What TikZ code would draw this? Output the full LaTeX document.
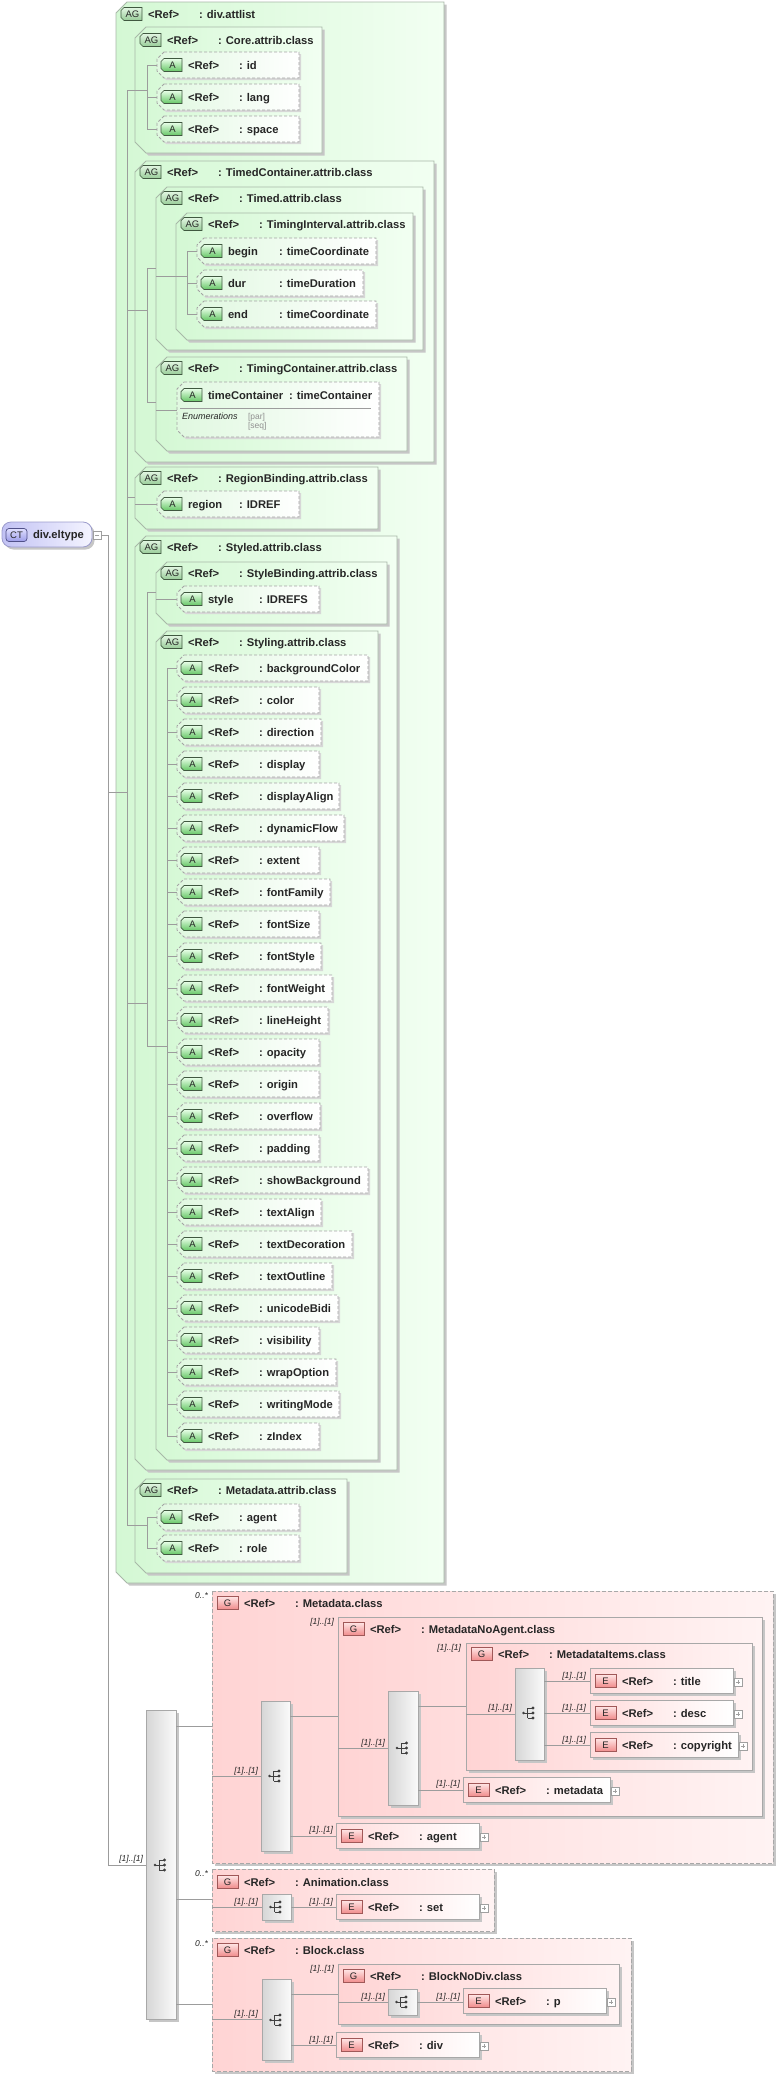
\documentclass[tikz,border=0pt]{standalone}
\usepackage{fontspec}
\setmainfont{Liberation Sans}
\usetikzlibrary{calc}
\definecolor{lineC}{HTML}{9C9C9C}
\definecolor{shdC}{HTML}{C6C6C6}
\definecolor{txtC}{HTML}{262626}
\definecolor{agL}{HTML}{D4F8D4}
\definecolor{agR}{HTML}{F2FFF2}
\definecolor{agB}{HTML}{A8B8A8}
\definecolor{aL}{HTML}{E0F8E0}
\definecolor{dashC}{HTML}{A4A4A4}
\definecolor{agbT}{HTML}{E2F6E2}
\definecolor{agbBt}{HTML}{98CC98}
\definecolor{abT}{HTML}{E8FFE8}
\definecolor{abBt}{HTML}{66C666}
\definecolor{bdG}{HTML}{405840}
\definecolor{rbT}{HTML}{FFE4E4}
\definecolor{rbBt}{HTML}{F08A8A}
\definecolor{bdR}{HTML}{A05858}
\definecolor{gL}{HTML}{FFD4D4}
\definecolor{gR}{HTML}{FFF3F3}
\definecolor{eL}{HTML}{FFDCDC}
\definecolor{boxB}{HTML}{A8A8A8}
\definecolor{sqL}{HTML}{D6D6D6}
\definecolor{sqR}{HTML}{FAFAFA}
\definecolor{iconC}{HTML}{404040}
\definecolor{plusC}{HTML}{A0A0A0}
\definecolor{ctL}{HTML}{C2C2F4}
\definecolor{ctR}{HTML}{F4F4FF}
\definecolor{ctB}{HTML}{9C9CCC}
\definecolor{ctbT}{HTML}{E0E0FF}
\definecolor{ctbBt}{HTML}{9C9CE8}
\definecolor{ctbB}{HTML}{505088}
\definecolor{enumC}{HTML}{909090}
\newcounter{nid}
\tikzset{
  conn/.style={draw=lineC, line width=0.8pt},
  tt/.style={anchor=base west, inner sep=0pt, outer sep=0pt, text=txtC, font=\fontsize{11.2}{13}\selectfont\bfseries},
  badgetxt/.style={anchor=base, inner sep=0pt, outer sep=0pt, text=txtC, font=\fontsize{9.5}{11}\selectfont},
  card/.style={anchor=base east, inner sep=0pt, outer sep=0pt, text=txtC, font=\fontsize{8.5}{10}\selectfont\itshape},
  enumt/.style={anchor=base west, inner sep=0pt, outer sep=0pt, text=txtC, font=\fontsize{9}{10}\selectfont\itshape},
  enumv/.style={anchor=base west, inner sep=0pt, outer sep=0pt, text=enumC, font=\fontsize{8.5}{10}\selectfont},
}
\newcommand\Txt[4]{\stepcounter{nid}\node[#1] (t\thenid) at ({#2},{#3}) {#4};}
\newcommand\HL[3]{\stepcounter{nid}\coordinate (p\thenid a) at ({#1},{#3});\coordinate (p\thenid b) at ({#2},{#3});\draw[conn] (p\thenid a) -- (p\thenid b);}
\newcommand\VL[3]{\stepcounter{nid}\coordinate (p\thenid a) at ({#1},{#2});\coordinate (p\thenid b) at ({#1},{#3});\draw[conn] (p\thenid a) -- (p\thenid b);}
\newcommand\Card[3]{\Txt{card}{#1}{#2+3}{#3}}
% tag badge (AG / A)
\newcommand\TagBadge[5]{% x cy text topcolor bottomcolor
  \path[draw=bdG, line width=0.7pt, top color=#4, bottom color=#5] ({#1+3},{#2-6.5}) -- ({#1+21},{#2-6.5}) -- ({#1+21},{#2+6.5}) -- ({#1+3},{#2+6.5}) -- ({#1},{#2+3.5}) -- ({#1},{#2-3.5}) -- cycle;
  \Txt{badgetxt}{#1+11.5}{#2+3.6}{#3}}
\newcommand\RBadge[3]{% x cy text
  \path[draw=bdR, line width=0.7pt, top color=rbT, bottom color=rbBt] ({#1},{#2-6.5}) rectangle ({#1+21},{#2+6.5});
  \Txt{badgetxt}{#1+10.5}{#2+3.6}{#3}}
\newcommand\AGbox[6]{% L T R B cy title
  \fill[shdC, xshift=2.5pt, yshift=-2.5pt] ({#1+11},{#2}) -- ({#3},{#2}) -- ({#3},{#4}) -- ({#1+11},{#4}) -- ({#1},{#4-11}) -- ({#1},{#2+11}) -- cycle;
  \path[draw=agB, line width=0.8pt, left color=agL, right color=agR] ({#1+11},{#2}) -- ({#3},{#2}) -- ({#3},{#4}) -- ({#1+11},{#4}) -- ({#1},{#4-11}) -- ({#1},{#2+11}) -- cycle;
  \TagBadge{#1+5}{#5}{AG}{agbT}{agbBt}
  \Txt{tt}{#1+32}{#5+4}{<Ref>}
  \Txt{tt}{#1+83}{#5+4}{: #6}}
\newcommand\Aitem[5]{% badgeX r R name type
  \fill[shdC!70, xshift=2pt, yshift=-2pt] ({#1+3},{#2-13}) -- ({#3},{#2-13}) -- ({#3},{#2+13}) -- ({#1+3},{#2+13}) -- ({#1-4},{#2+6}) -- ({#1-4},{#2-6}) -- cycle;
  \path[draw=dashC, line width=0.8pt, dash pattern=on 3pt off 2pt, left color=aL, right color=white] ({#1+3},{#2-13}) -- ({#3},{#2-13}) -- ({#3},{#2+13}) -- ({#1+3},{#2+13}) -- ({#1-4},{#2+6}) -- ({#1-4},{#2-6}) -- cycle;
  \TagBadge{#1}{#2}{A}{abT}{abBt}
  \Txt{tt}{#1+27}{#2+4}{#4}
  \Txt{tt}{#1+78}{#2+4}{: #5}}
\newcommand\Gbox[7]{% L T R B cy title dashopt
  \fill[shdC, xshift=2.5pt, yshift=-2.5pt] ({#1},{#2}) rectangle ({#3},{#4});
  \path[draw=boxB, line width=0.8pt, #7, left color=gL, right color=gR] ({#1},{#2}) rectangle ({#3},{#4});
  \RBadge{#1+5}{#5}{G}
  \Txt{tt}{#1+32}{#5+4}{<Ref>}
  \Txt{tt}{#1+83}{#5+4}{: #6}}
\newcommand\Plus[2]{%
  \path[draw=plusC, fill=white, line width=0.6pt] ({#1},{#2-4}) rectangle ({#1+8},{#2+4});
  \draw[plusC, line width=0.6pt] ({#1+2},{#2}) -- ({#1+6},{#2}) ({#1+4},{#2-2}) -- ({#1+4},{#2+2});}
\newcommand\Ebox[4]{% L r R type
  \fill[shdC, xshift=2.5pt, yshift=-2.5pt] ({#1},{#2-12.5}) rectangle ({#3},{#2+12.5});
  \path[draw=boxB, line width=0.8pt, left color=eL, right color=white] ({#1},{#2-12.5}) rectangle ({#3},{#2+12.5});
  \RBadge{#1+5}{#2}{E}
  \Txt{tt}{#1+32}{#2+4}{<Ref>}
  \Txt{tt}{#1+83}{#2+4}{: #4}
  \Plus{#3+1}{#2+1}}
\newcommand\SeqIcon[2]{%
  \draw[iconC, line width=0.7pt] ({#1-6},{#2}) -- ({#1-2},{#2}) ({#1-2},{#2-5}) -- ({#1-2},{#2+5}) ({#1-2},{#2-5}) -- ({#1+3},{#2-5}) ({#1-2},{#2}) -- ({#1+3},{#2}) ({#1-2},{#2+5}) -- ({#1+3},{#2+5});
  \fill[iconC] ({#1-6},{#2}) circle (1.4pt) ({#1+3.5},{#2-5}) circle (1.6pt) ({#1+3.5},{#2}) circle (1.6pt) ({#1+3.5},{#2+5}) circle (1.6pt);}
\newcommand\Seq[5]{% L T R B iconY
  \fill[shdC, xshift=2.5pt, yshift=-2.5pt] ({#1},{#2}) rectangle ({#3},{#4});
  \path[draw=boxB, line width=0.8pt, left color=sqL, right color=sqR] ({#1},{#2}) rectangle ({#3},{#4});
  \SeqIcon{(#1+#3)/2}{#5}}
\begin{document}
\begin{tikzpicture}[x=1pt, y=-1pt]
\useasboundingbox[fill=white] (0,0) rectangle (780,2077);
% ---------- complex type ----------
\fill[shdC, xshift=2.5pt, yshift=-2.5pt, rounded corners=9pt] (2,522) rectangle (92,547);
\path[draw=ctB, line width=0.8pt, rounded corners=9pt, left color=ctL, right color=ctR] (2,522) rectangle (92,547);
\path[draw=ctbB, line width=0.7pt, rounded corners=3pt, top color=ctbT, bottom color=ctbBt] (6,528.5) rectangle (27,541.5);
\Txt{badgetxt}{16.5}{538.6}{CT}
\Txt{tt}{33}{538}{div.eltype}
\path[draw=plusC, fill=white, line width=0.6pt] (93,531) rectangle (101,539);
\stepcounter{nid}\coordinate (m1) at (95,535); \coordinate (m2) at (99,535);
\draw[plusC, line width=0.6pt] (m1) -- (m2);
% ---------- attribute groups ----------
\AGbox{116}{2}{444}{1583}{14}{div.attlist}
\AGbox{135}{27}{322}{153}{40}{Core.attrib.class}
\Aitem{161}{65}{299}{<Ref>}{id}
\Aitem{161}{97}{299}{<Ref>}{lang}
\Aitem{161}{129}{299}{<Ref>}{space}
\AGbox{135}{161}{434}{462}{172}{TimedContainer.attrib.class}
\AGbox{156}{187}{423}{350}{198}{Timed.attrib.class}
\AGbox{176}{213}{413}{340}{224}{TimingInterval.attrib.class}
\Aitem{201}{251}{376}{begin}{timeCoordinate}
\Aitem{201}{283}{363}{dur}{timeDuration}
\Aitem{201}{314}{376}{end}{timeCoordinate}
\AGbox{156}{357}{407}{451}{368}{TimingContainer.attrib.class}
% timeContainer attribute with enumerations
\fill[shdC!70, xshift=2pt, yshift=-2pt] (184,382) -- (379,382) -- (379,437) -- (184,437) -- (177,430) -- (177,389) -- cycle;
\path[draw=dashC, line width=0.8pt, dash pattern=on 3pt off 2pt, left color=aL, right color=white] (184,382) -- (379,382) -- (379,437) -- (184,437) -- (177,430) -- (177,389) -- cycle;
\TagBadge{181}{395}{A}{abT}{abBt}
\Txt{tt}{208}{399}{timeContainer}
\Txt{tt}{289}{399}{: timeContainer}
\stepcounter{nid}\coordinate (s1) at (180,408); \coordinate (s2) at (371,408);
\draw[lineC, line width=0.8pt] (s1) -- (s2);
\Txt{enumt}{182}{419.5}{Enumerations}
\Txt{enumv}{248}{419}{[par]}
\Txt{enumv}{248}{428.5}{[seq]}
\AGbox{135}{467}{378}{529}{478}{RegionBinding.attrib.class}
\Aitem{161}{504}{299}{region}{IDREF}
\AGbox{135}{536}{397}{1470}{547}{Styled.attrib.class}
\AGbox{156}{562}{387}{624}{573}{StyleBinding.attrib.class}
\Aitem{181}{599}{319}{style}{IDREFS}
\AGbox{156}{631}{378}{1460}{642}{Styling.attrib.class}
\foreach \nm/\rr [count=\k from 0] in {backgroundColor/368, color/319, direction/321, display/319, displayAlign/339, dynamicFlow/344, extent/319, fontFamily/330, fontSize/319, fontStyle/321, fontWeight/332, lineHeight/328, opacity/319, origin/319, overflow/320, padding/319, showBackground/368, textAlign/321, textDecoration/352, textOutline/332, unicodeBidi/338, visibility/319, wrapOption/336, writingMode/339, zIndex/319}{
  \pgfmathsetmacro\ry{668+32*\k}
  \Aitem{181}{\ry}{\rr}{<Ref>}{\nm}
  \HL{167}{177}{\ry}
}
\AGbox{135}{1479}{347}{1573}{1490}{Metadata.attrib.class}
\Aitem{161}{1517}{299}{<Ref>}{agent}
\Aitem{161}{1548}{299}{<Ref>}{role}
% ---------- content model ----------
\Seq{146}{1710}{176}{2019}{1865}
\Gbox{212}{1591}{773}{1863}{1603}{Metadata.class}{dash pattern=on 4pt off 2pt}
\Seq{261}{1701}{290}{1851}{1776}
\Gbox{338}{1617}{762}{1816}{1629}{MetadataNoAgent.class}{solid}
\Seq{388}{1691}{418}{1805}{1748}
\Gbox{466}{1643}{752}{1770}{1654}{MetadataItems.class}{solid}
\Seq{515}{1668}{544}{1760}{1713}
\Ebox{590}{1681}{733}{title}
\Ebox{590}{1713}{733}{desc}
\Ebox{590}{1745}{738}{copyright}
\Ebox{463}{1790}{610}{metadata}
\Ebox{336}{1836}{479}{agent}
\Gbox{212}{1869}{494}{1931}{1882}{Animation.class}{dash pattern=on 4pt off 2pt}
\Seq{262}{1894}{291}{1920}{1907}
\Ebox{336}{1907}{479}{set}
\Gbox{212}{1938}{631}{2071}{1950}{Block.class}{dash pattern=on 4pt off 2pt}
\Seq{262}{1979}{291}{2060}{2020}
\Gbox{338}{1964}{619}{2024}{1976}{BlockNoDiv.class}{solid}
\Seq{388}{1989}{417}{2015}{2002}
\Ebox{463}{2001}{606}{p}
\Ebox{336}{2045}{479}{div}
% ---------- connectors ----------
\HL{101}{108}{535}
\VL{108}{535}{1865}
\HL{108}{127}{792}
\HL{108}{146}{1865}
\VL{127}{90}{1525}
\HL{127}{147}{90}
\HL{127}{147}{310}
\HL{127}{135}{497}
\HL{135}{157}{504}
\HL{127}{147}{1003}
\HL{127}{147}{1525}
\VL{147}{65}{129}
\HL{147}{157}{65}
\HL{147}{157}{97}
\HL{147}{157}{129}
\VL{147}{268}{402}
\HL{147}{156}{268}
\HL{156}{187}{276}
\HL{147}{156}{402}
\HL{156}{177}{410}
\VL{187}{251}{314}
\HL{187}{197}{251}
\HL{187}{197}{283}
\HL{187}{197}{314}
\VL{147}{592}{1046}
\HL{147}{156}{592}
\HL{156}{177}{599}
\HL{147}{167}{1046}
\VL{167}{668}{1436}
\VL{147}{1517}{1548}
\HL{147}{157}{1517}
\HL{147}{157}{1548}
\HL{176}{212}{1726}
\HL{176}{212}{1899}
\HL{176}{212}{2004}
\HL{212}{261}{1776}
\HL{290}{338}{1716}
\HL{290}{336}{1836}
\HL{338}{388}{1748}
\HL{418}{466}{1706}
\HL{418}{463}{1790}
\HL{466}{515}{1714}
\HL{544}{590}{1681}
\HL{544}{590}{1713}
\HL{544}{590}{1745}
\HL{212}{262}{1907}
\HL{291}{336}{1907}
\HL{212}{262}{2019}
\HL{291}{338}{1994}
\HL{291}{336}{2045}
\HL{338}{388}{2002}
\HL{417}{463}{2002}
% ---------- cardinalities ----------
\Card{143}{1858}{[1]..[1]}
\Card{208}{1595}{0..*}
\Card{258}{1770}{[1]..[1]}
\Card{334}{1621}{[1]..[1]}
\Card{333}{1829}{[1]..[1]}
\Card{385}{1742}{[1]..[1]}
\Card{461}{1647}{[1]..[1]}
\Card{460}{1783}{[1]..[1]}
\Card{512}{1707}{[1]..[1]}
\Card{586}{1675}{[1]..[1]}
\Card{586}{1707}{[1]..[1]}
\Card{586}{1739}{[1]..[1]}
\Card{208}{1873}{0..*}
\Card{258}{1901}{[1]..[1]}
\Card{333}{1901}{[1]..[1]}
\Card{208}{1943}{0..*}
\Card{258}{2013}{[1]..[1]}
\Card{334}{1968}{[1]..[1]}
\Card{333}{2039}{[1]..[1]}
\Card{385}{1996}{[1]..[1]}
\Card{460}{1996}{[1]..[1]}
\end{tikzpicture}
\end{document}
